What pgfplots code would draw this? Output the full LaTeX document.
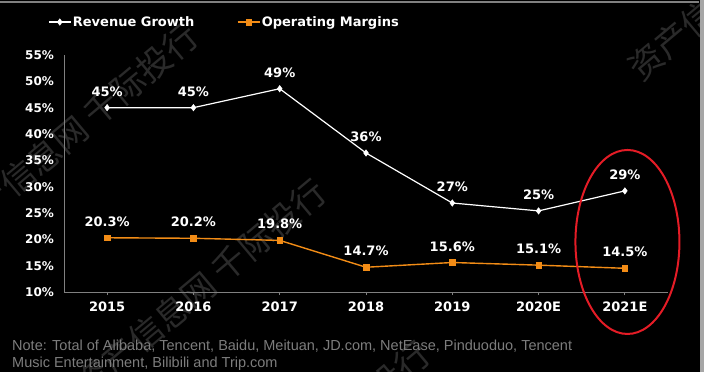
\documentclass[border=0pt]{standalone}
\usepackage{fontspec}
\usepackage{pgfplots}
\usepackage{pgfplotstable}
\pgfplotsset{compat=1.18}
\setmainfont{DejaVu Sans}
\newfontfamily\notefont{Liberation Sans}
\newfontfamily\cjk{Noto Sans CJK SC}
\definecolor{orangeline}{RGB}{242,140,22}
\definecolor{axisgray}{RGB}{128,128,128}
\definecolor{notegray}{RGB}{125,125,125}
\definecolor{wmgray}{RGB}{42,42,42}
\definecolor{ellred}{RGB}{228,28,38}

\pgfplotstableread{
x y lab
0 45.0 45
1 45.0 45
2 48.6 49
3 36.4 36
4 26.9 27
5 25.4 25
6 29.2 29
}\revenue

\pgfplotstableread{
x y lab
0 20.3 20.3
1 20.2 20.2
2 19.8 19.8
3 14.7 14.7
4 15.6 15.6
5 15.1 15.1
6 14.5 14.5
}\margins

\begin{document}
\begin{tikzpicture}
\useasboundingbox (0pt,0pt) rectangle (704pt,-372pt);
\fill[black] (0pt,0pt) rectangle (704pt,-372pt);
\draw[gray, line width=1.5pt] (0pt,-2pt) -- (699pt,-2pt);
\fill[gray!70] (700pt,0pt) rectangle (704pt,-372pt);
% watermarks
\begin{scope}
\clip (0pt,0pt) rectangle (699pt,-372pt);
\begin{scope}[every node/.style={text=wmgray, font=\cjk\fontsize{34}{34}\selectfont, inner sep=0pt, rotate=40}]
\node[anchor=east] at (193pt,-31pt) {资产信息网 千际投行};
\node[anchor=east] at (321pt,-187pt) {资产信息网 千际投行};
\node[anchor=east] at (425pt,-349pt) {资产信息网 千际投行};
\node[anchor=west] at (633pt,-73pt) {资产信息网 千际投行};
\end{scope}
\end{scope}
\begin{axis}[
  at={(64pt,-292pt)}, anchor=south west,
  scale only axis, width=604pt, height=237pt,
  xmin=-0.5, xmax=6.5, ymin=10, ymax=55,
  axis x line*=bottom, axis y line*=left,
  axis line style={axisgray, line width=0.8pt, -},
  xtick={0,...,6},
  xticklabels={2015,2016,2017,2018,2019,2020E,2021E},
  ytick={10,15,...,55},
  yticklabels={10\%,15\%,20\%,25\%,30\%,35\%,40\%,45\%,50\%,55\%},
  tick label style={text=white},
  y tick label style={font=\bfseries\fontsize{12}{14}\selectfont, xshift=-3.5pt},
  x tick label style={font=\bfseries\fontsize{13}{15}\selectfont, yshift=-3.5pt},
  major tick length=3pt, tick align=outside,
  ytick style={draw=none},
  xtick style={axisgray, line width=0.8pt},
  clip=false,
  legend columns=2,
  legend style={at={(-0.0265,1.139)}, anchor=west, draw=none, fill=none,
    text=white, font=\bfseries\fontsize{13}{15}\selectfont, inner sep=0pt,
    nodes={inner sep=1.5pt},
    /tikz/every even column/.append style={column sep=41pt}},
  legend image code/.code={\draw[#1, mark repeat=2, mark phase=2] plot coordinates {(0pt,0pt) (11pt,0pt) (22pt,0pt)};},
  point meta=explicit symbolic,
  every node near coord/.append style={text=white, font=\bfseries\fontsize{13}{15}\selectfont, anchor=south, inner sep=0pt, yshift=11pt},
]
\addplot[white, line width=1.2pt, mark=diamond*, mark size=3.2pt, mark options={fill=white, line width=0.5pt},
  nodes near coords={\pgfplotspointmeta\%}] table[x=x, y=y, meta=lab]{\revenue};
\addlegendentry{Revenue Growth}
\addplot[orangeline, line width=1.4pt, mark=square*, mark size=2.8pt, mark options={fill=orangeline, line width=0.5pt},
  nodes near coords={\pgfplotspointmeta\%}] table[x=x, y=y, meta=lab]{\margins};
\addlegendentry{Operating Margins}
\draw[ellred, line width=2pt] (axis cs:6.03,19.5) ellipse [x radius=52pt, y radius=92pt];
\end{axis}
\node[anchor=north west, inner sep=0pt, align=left, text=notegray, font=\notefont\fontsize{14.5}{17}\selectfont] at (12pt,-340pt)
  {Note: Total of Alibaba, Tencent, Baidu, Meituan, JD.com, NetEase, Pinduoduo, Tencent\\Music Entertainment, Bilibili and Trip.com};
\end{tikzpicture}
\end{document}
